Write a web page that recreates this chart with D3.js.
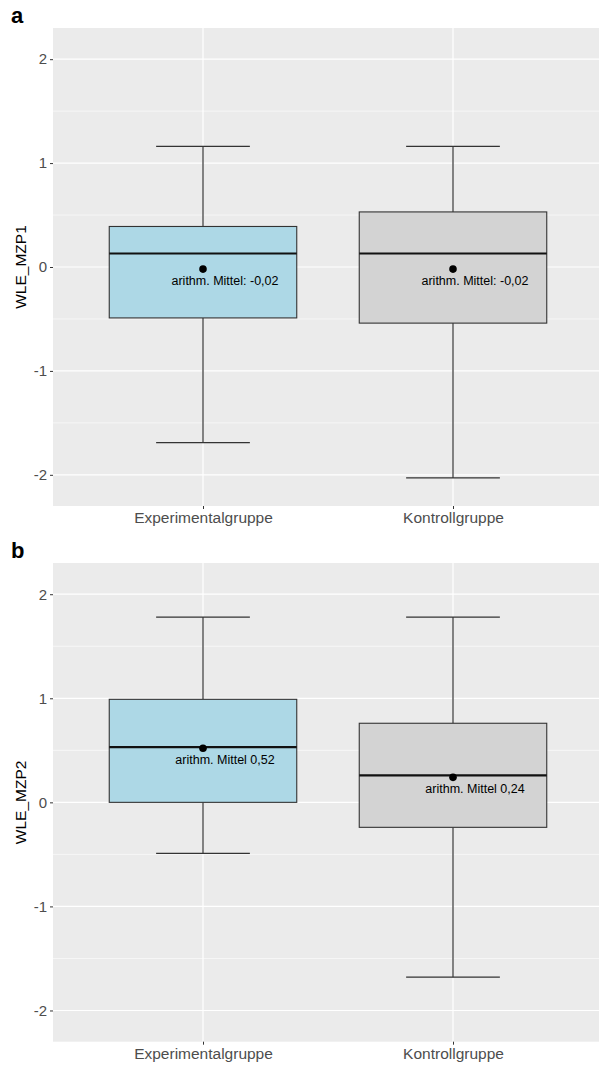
<!DOCTYPE html>
<html>
<head>
<meta charset="utf-8">
<script src="https://cdn.jsdelivr.net/npm/d3@7"></script>
<style>
  body { margin: 0; background: #fff; }
  text { font-family: "Liberation Sans", Arial, sans-serif; }
</style>
</head>
<body>
<div id="chart"></div>
<script>
// categories
const groups = ["Experimentalgruppe", "Kontrollgruppe"];
const fills = ["#ADD8E6", "#D3D3D3"];
const yTicks = [-2, -1, 0, 1, 2];
const yMinor = [-1.5, -0.5, 0.5, 1.5];

// panel a: WLE_MZP1
const lowA = [-1.69, -2.03];
const q1A = [-0.49, -0.54];
const medA = [0.13, 0.13];
const q3A = [0.39, 0.53];
const upA = [1.16, 1.16];
const meanA = [-0.02, -0.02];
const labelA = ["arithm. Mittel: -0,02", "arithm. Mittel: -0,02"];

// panel b: WLE_MZP2
const lowB = [-0.49, -1.68];
const q1B = [0.0, -0.24];
const medB = [0.53, 0.26];
const q3B = [0.99, 0.76];
const upB = [1.78, 1.78];
const meanB = [0.52, 0.24];
const labelB = ["arithm. Mittel 0,52", "arithm. Mittel 0,24"];

const W = 599, H = 1065;
const svg = d3.select("#chart").append("svg")
    .attr("width", W).attr("height", H);

const x = d3.scalePoint().domain(groups).range([53, 603]).padding(0.6);
const boxW = x.step() * 0.75;
const capW = boxW / 2;

const panels = [
  { tag: "a", title: "WLE_MZP1", top: 28, bottom: 506, low: lowA, q1: q1A, med: medA, q3: q3A, up: upA, mean: meanA, label: labelA },
  { tag: "b", title: "WLE_MZP2", top: 563, bottom: 1041.7, low: lowB, q1: q1B, med: medB, q3: q3B, up: upB, mean: meanB, label: labelB }
];

panels.forEach(p => {
  const y = d3.scaleLinear().domain([-2.3, 2.3]).range([p.bottom, p.top]);
  const g = svg.append("g");
  const left = 53, right = W;

  g.append("rect")
    .attr("x", left).attr("y", p.top)
    .attr("width", right - left).attr("height", p.bottom - p.top)
    .attr("fill", "#EBEBEB");

  // grid
  g.selectAll(".minor").data(yMinor).enter().append("line")
    .attr("x1", left).attr("x2", right)
    .attr("y1", d => y(d)).attr("y2", d => y(d))
    .attr("stroke", "#fff").attr("stroke-width", 0.6);
  g.selectAll(".major").data(yTicks).enter().append("line")
    .attr("x1", left).attr("x2", right)
    .attr("y1", d => y(d)).attr("y2", d => y(d))
    .attr("stroke", "#fff").attr("stroke-width", 1.2);
  g.selectAll(".vmajor").data(groups).enter().append("line")
    .attr("x1", d => x(d)).attr("x2", d => x(d))
    .attr("y1", p.top).attr("y2", p.bottom)
    .attr("stroke", "#fff").attr("stroke-width", 1.2);

  // axes
  const yAxis = g.append("g").attr("transform", `translate(${left},0)`)
    .call(d3.axisLeft(y).tickValues(yTicks).tickSize(3).tickPadding(3).tickFormat(d => String(d)));
  yAxis.select(".domain").remove();
  yAxis.selectAll("line").attr("stroke", "#333");
  yAxis.selectAll("text").attr("fill", "#4D4D4D").style("font-size", "15px")
    .style("font-family", "'Liberation Sans', Arial, sans-serif");

  const xAxis = g.append("g").attr("transform", `translate(0,${p.bottom})`)
    .call(d3.axisBottom(x).tickSize(3).tickPadding(3));
  xAxis.select(".domain").remove();
  xAxis.selectAll("line").attr("stroke", "#333");
  xAxis.selectAll("text").attr("fill", "#4D4D4D").style("font-size", "15.5px")
    .style("font-family", "'Liberation Sans', Arial, sans-serif");

  // y title
  g.append("text")
    .attr("transform", `translate(26,${y(0)}) rotate(-90)`)
    .attr("text-anchor", "middle")
    .style("font-size", "15.5px")
    .attr("fill", "#000")
    .text(p.title);

  // panel tag
  g.append("text")
    .attr("x", 11).attr("y", p.top - 5)
    .style("font-size", "22px").style("font-weight", "bold")
    .text(p.tag);

  // boxes
  const idx = groups.map((d, i) => i);
  const bx = g.selectAll(".box").data(idx).enter().append("g");

  bx.append("line")
    .attr("x1", i => x(groups[i])).attr("x2", i => x(groups[i]))
    .attr("y1", i => y(p.up[i])).attr("y2", i => y(p.q3[i]))
    .attr("stroke", "#333").attr("stroke-width", 1.2);
  bx.append("line")
    .attr("x1", i => x(groups[i])).attr("x2", i => x(groups[i]))
    .attr("y1", i => y(p.q1[i])).attr("y2", i => y(p.low[i]))
    .attr("stroke", "#333").attr("stroke-width", 1.2);
  bx.append("line")
    .attr("x1", i => x(groups[i]) - capW / 2).attr("x2", i => x(groups[i]) + capW / 2)
    .attr("y1", i => y(p.up[i])).attr("y2", i => y(p.up[i]))
    .attr("stroke", "#333").attr("stroke-width", 1.3);
  bx.append("line")
    .attr("x1", i => x(groups[i]) - capW / 2).attr("x2", i => x(groups[i]) + capW / 2)
    .attr("y1", i => y(p.low[i])).attr("y2", i => y(p.low[i]))
    .attr("stroke", "#333").attr("stroke-width", 1.3);

  bx.append("rect")
    .attr("x", i => x(groups[i]) - boxW / 2)
    .attr("y", i => y(p.q3[i]))
    .attr("width", boxW)
    .attr("height", i => y(p.q1[i]) - y(p.q3[i]))
    .attr("fill", i => fills[i])
    .attr("stroke", "#333").attr("stroke-width", 1.1);

  bx.append("line")
    .attr("x1", i => x(groups[i]) - boxW / 2).attr("x2", i => x(groups[i]) + boxW / 2)
    .attr("y1", i => y(p.med[i])).attr("y2", i => y(p.med[i]))
    .attr("stroke", "#111").attr("stroke-width", 2.2);

  bx.append("circle")
    .attr("cx", i => x(groups[i])).attr("cy", i => y(p.mean[i]))
    .attr("r", 3.8).attr("fill", "#000");

  bx.append("text")
    .attr("x", i => x(groups[i]) + 22)
    .attr("y", i => y(p.mean[i]) + 16)
    .attr("text-anchor", "middle")
    .style("font-size", "12.5px")
    .attr("fill", "#000")
    .text(i => p.label[i]);
});
</script>
</body>
</html>
